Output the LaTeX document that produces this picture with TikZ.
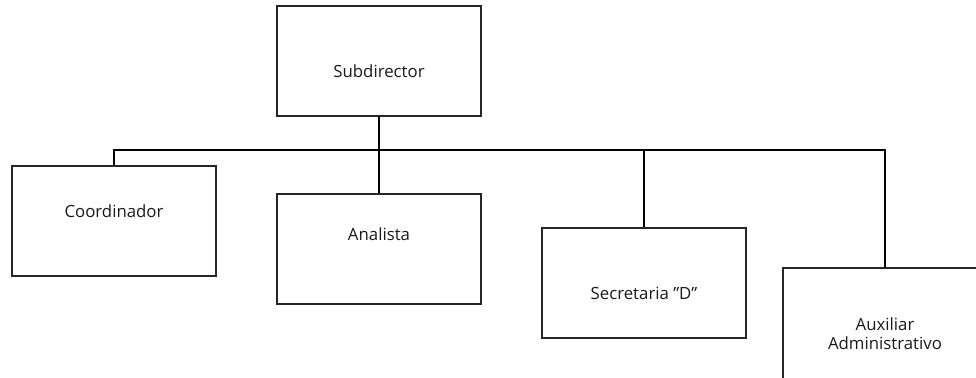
\documentclass[tikz,border=0pt]{standalone}
\usepackage{fontspec}
\setmainfont{Open Sans}
\tikzset{
  puesto/.style={draw=black!85, line width=0.75pt, minimum width=102pt, minimum height=55pt, inner sep=0pt},
  rotulo/.style={font=\fontsize{8.4}{9.5}\selectfont, align=center, text=black!90},
  linea/.style={draw=black, line width=1pt}
}
\begin{document}
\begin{tikzpicture}[x=0.5pt, y=-0.5pt]
  \clip (0,0) rectangle (976,377);
  \node[puesto] (sub) at (379,61) {};
  \node[puesto] (coo) at (114,221) {};
  \node[puesto] (ana) at (379,249) {};
  \node[puesto] (sec) at (644,283) {};
  \node[puesto, minimum height=65pt] (aux) at (885,333) {};
  \node[rotulo] (subtxt) at (379,71) {Subdirector};
  \node[rotulo] (cootxt) at (114,211) {Coordinador};
  \node[rotulo] (anatxt) at (379,234) {Analista};
  \node[rotulo] (sectxt) at (644,293) {Secretaria "D"};
  \node[rotulo] (auxtxt) at (885,334) {Auxiliar\\Administrativo};
  \coordinate (bus) at (379,150);
  \draw[linea] (sub) -- (ana);
  \draw[linea] (coo.north) |- (aux.north |- bus) -- (aux.north);
  \draw[linea] (sec.north |- bus) -- (sec.north);
\end{tikzpicture}
\end{document}
